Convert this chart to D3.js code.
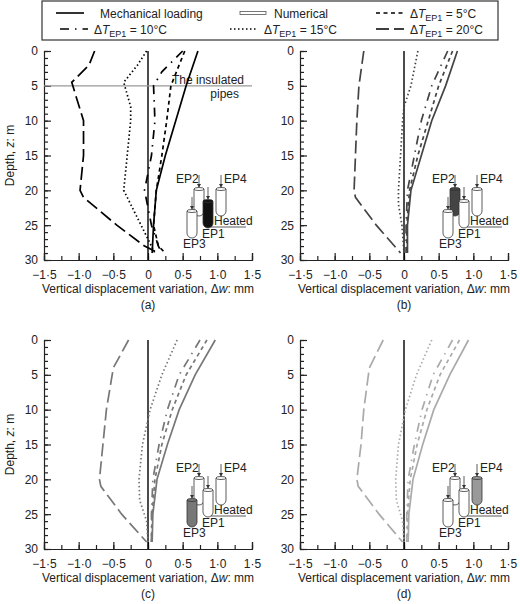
<!doctype html>
<html>
<head>
<meta charset="UTF-8">
<title>displacement</title>
<script src="https://cdn.jsdelivr.net/npm/d3@7"></script>
<style>
  body { margin: 0; background: #fff; }
  text { font-family: "Liberation Sans", Arial, sans-serif; font-size: 12px; fill: #222; }
</style>
</head>
<body>
<svg width="520" height="604"></svg>
<script>
// [dw (mm), depth z (m)]
let mechA = [[0.72,0],[0.55,5],[0.4,10],[0.25,15],[0.12,20],[0.08,25],[0.06,29]];
let t5A   = [[0.53,0],[0.33,5],[0.27,10],[0.2,15],[0.12,20],[0.08,25],[0.15,28],[0.25,29]];
let t10A  = [[0.5,0],[0.2,3],[0.08,5],[0.1,10],[0.05,15],[-0.05,20],[0.05,25],[0.15,28],[0.2,29]];
let t15A  = [[-0.02,0],[-0.15,2],[-0.35,4.5],[-0.25,8],[-0.25,10],[-0.3,15],[-0.35,20],[-0.1,25],[0.05,28],[0.1,29]];
let t20A  = [[-0.77,0],[-0.85,2],[-1.1,4.5],[-0.93,10],[-0.93,15],[-0.98,20],[-0.93,21],[-0.45,25],[-0.05,28],[0.15,29]];

let mechB = [[0.77,0],[0.6,5],[0.4,10],[0.25,15],[0.1,20],[0.05,25],[0.05,29]];
let t5B   = [[0.7,0],[0.5,5],[0.35,10],[0.2,15],[0.08,20],[0.04,25],[0.04,29]];
let t10B  = [[0.63,0],[0.4,5],[0.25,10],[0.15,15],[0.05,20],[0.03,25],[0.03,29]];
let t15B  = [[0.2,0],[0.1,5],[0,8],[-0.02,10],[-0.05,15],[-0.08,20],[-0.08,22],[-0.03,25],[0,29]];
let t20B  = [[-0.58,0],[-0.65,5],[-0.68,10],[-0.7,15],[-0.72,20],[-0.7,21],[-0.4,25],[-0.05,29]];

let mechC = [[0.97,0],[0.68,5],[0.45,10],[0.28,15],[0.13,20],[0.07,25],[0.06,29]];
let t5C   = [[0.85,0],[0.55,5],[0.35,10],[0.2,15],[0.1,20],[0.06,25],[0.05,29]];
let t10C  = [[0.75,0],[0.45,5],[0.28,10],[0.16,15],[0.07,20],[0.05,25],[0.05,29]];
let t15C  = [[0.42,0],[0.2,5],[0.03,10],[-0.08,15],[-0.13,20],[-0.12,23],[-0.02,26],[0,29]];
let t20C  = [[-0.28,0],[-0.5,4],[-0.6,10],[-0.65,15],[-0.7,20],[-0.68,21],[-0.38,25],[-0.02,29]];

let mechD = [[0.93,0],[0.66,5],[0.43,10],[0.27,15],[0.13,20],[0.07,25],[0.06,29]];
let t5D   = [[0.8,0],[0.52,5],[0.33,10],[0.19,15],[0.09,20],[0.05,25],[0.05,29]];
let t10D  = [[0.7,0],[0.42,5],[0.26,10],[0.15,15],[0.06,20],[0.04,25],[0.04,29]];
let t15D  = [[0.4,0],[0.18,5],[0.02,10],[-0.08,15],[-0.12,20],[-0.11,23],[-0.02,26],[0,29]];
let t20D  = [[-0.3,0],[-0.5,4],[-0.58,10],[-0.62,15],[-0.68,20],[-0.66,21],[-0.36,25],[-0.02,29]];

let xTicks = [-1.5, -1.0, -0.5, 0, 0.5, 1.0, 1.5];
let yTicks = [0, 5, 10, 15, 20, 25, 30];
let panelLabels = ["(a)", "(b)", "(c)", "(d)"];
let heatedPile = ["EP1", "EP2", "EP3", "EP4"];
let panelColors = ["#000", "#444", "#777", "#aaa"];
let pileFills = ["#111", "#444", "#777", "#999"];

let styles = {
    mech: "",
    t5: "4,3.5",
    t10: "9,6,1.5,6",
    t15: "1.5,2.5",
    t20: "13,5"
};

let panels = [
    {x: 44, y: 51, series: {mech: mechA, t5: t5A, t10: t10A, t15: t15A, t20: t20A}},
    {x: 300, y: 51, series: {mech: mechB, t5: t5B, t10: t10B, t15: t15B, t20: t20B}},
    {x: 44, y: 340, series: {mech: mechC, t5: t5C, t10: t10C, t15: t15C, t20: t20C}},
    {x: 300, y: 340, series: {mech: mechD, t5: t5D, t10: t10D, t15: t15D, t20: t20D}}
];

let W = 208, H = 209;
let svg = d3.select("svg");
let fmt = d => d === 0 ? "0" : d3.format(".1f")(d).replace("-", "\u2212").replace(".", "\u00b7");

// legend
let leg = svg.append("g");
leg.append("rect").attr("x", 42).attr("y", 1).attr("width", 456).attr("height", 39)
    .attr("fill", "none").attr("stroke", "#333").attr("stroke-width", 1.2);
let legItems = [
    {x: 56, y: 13, key: "mech", label: "Mechanical loading"},
    {x: 240, y: 13, key: "num", label: "Numerical"},
    {x: 376, y: 13, key: "t5", label: "5°C"},
    {x: 60, y: 29, key: "t10", label: "10°C"},
    {x: 230, y: 29, key: "t15", label: "15°C"},
    {x: 376, y: 29, key: "t20", label: "20°C"}
];
legItems.forEach(it => {
    if (it.key === "num") {
        leg.append("rect").attr("x", it.x).attr("y", it.y - 1.5).attr("width", 26).attr("height", 3)
            .attr("fill", "#fff").attr("stroke", "#555").attr("stroke-width", 0.8);
    } else {
        leg.append("line").attr("x1", it.x).attr("x2", it.x + 28).attr("y1", it.y).attr("y2", it.y)
            .attr("stroke", "#000").attr("stroke-width", 1.6).attr("stroke-dasharray", styles[it.key]);
    }
    let t = leg.append("text").attr("x", it.x + (it.key === "mech" ? 44 : 34)).attr("y", it.y + 4.5);
    if (it.key === "mech" || it.key === "num") {
        t.text(it.label);
    } else {
        t.append("tspan").text("\u0394");
        t.append("tspan").attr("font-style", "italic").text("T");
        t.append("tspan").attr("dy", 3).attr("font-size", 9).text("EP1");
        t.append("tspan").attr("dy", -3).text(" = " + it.label);
    }
});

function pile(g, name, cx, top, heated, fill) {
    let w = 10, h = 27, r = 5;
    g.append("path")
        .attr("d", `M${cx - w/2},${top} L${cx - w/2},${top + h - r} A${r},${r} 0 0 0 ${cx + w/2},${top + h - r} L${cx + w/2},${top} Z`)
        .attr("fill", heated ? fill : "#fff").attr("stroke", "#333").attr("stroke-width", 0.8);
    g.append("ellipse").attr("cx", cx).attr("cy", top).attr("rx", w/2).attr("ry", 1.5)
        .attr("fill", heated ? fill : "#fff").attr("stroke", "#333").attr("stroke-width", 0.8);
    g.append("line").attr("x1", cx).attr("x2", cx).attr("y1", top - 14).attr("y2", top - 2)
        .attr("stroke", "#333").attr("stroke-width", 0.8);
    g.append("path").attr("d", `M${cx - 2},${top - 5} L${cx},${top - 1.5} L${cx + 2},${top - 5} Z`).attr("fill", "#333");
}

panels.forEach((p, i) => {
    let g = svg.append("g").attr("transform", `translate(${p.x},${p.y})`);
    let x = d3.scaleLinear().domain([-1.5, 1.5]).range([0, W]);
    let y = d3.scaleLinear().domain([0, 30]).range([0, H]);

    g.append("g").attr("transform", `translate(0,${H})`)
        .call(d3.axisBottom(x).tickValues(d3.range(-1.5, 1.51, 0.25)).tickSize(-4).tickFormat(""))
        .call(a => a.select(".domain").remove());
    g.append("g").attr("transform", `translate(0,${H})`)
        .call(d3.axisBottom(x).tickValues(xTicks).tickSize(-7).tickPadding(10).tickFormat(fmt))
        .call(a => a.selectAll("text").attr("font-size", 12).attr("fill", "#222"));
    g.append("g")
        .call(d3.axisLeft(y).tickValues(d3.range(0, 31, 1)).tickSize(-4).tickFormat(""))
        .call(a => a.select(".domain").remove());
    g.append("g")
        .call(d3.axisLeft(y).tickValues(yTicks).tickSize(-7).tickPadding(6))
        .call(a => a.selectAll("text").attr("font-size", 12).attr("fill", "#222"));
    g.selectAll(".domain, .tick line").attr("stroke", "#222").attr("stroke-width", 1.2);

    g.append("line").attr("x1", x(0)).attr("x2", x(0)).attr("y1", 0).attr("y2", H)
        .attr("stroke", "#000").attr("stroke-width", 1.4);

    if (i === 0) {
        g.append("line").attr("x1", 0).attr("x2", W).attr("y1", y(5)).attr("y2", y(5))
            .attr("stroke", "#999").attr("stroke-width", 1.2);
        g.append("text").attr("x", 128).attr("y", y(5) - 2).text("The insulated");
        g.append("text").attr("x", 195).attr("y", y(5) + 12).attr("text-anchor", "end").text("pipes");
    }

    let line = d3.line().x(d => x(d[0])).y(d => y(d[1]));
    Object.keys(p.series).forEach(k => {
        g.append("path").datum(p.series[k]).attr("d", line)
            .attr("fill", "none").attr("stroke", panelColors[i]).attr("stroke-width", 1.7)
            .attr("stroke-dasharray", styles[k]);
    });

    // inset
    let ins = g.append("g");
    let piles = {EP2: [155, 138], EP1: [164, 150], EP3: [148, 160], EP4: [177, 138]};
    Object.keys(piles).forEach(n => pile(ins, n, piles[n][0], piles[n][1], n === heatedPile[i], pileFills[i]));
    ins.append("text").attr("x", 132).attr("y", 132).text("EP2");
    ins.append("text").attr("x", 180).attr("y", 132).text("EP4");
    ins.append("text").attr("x", 170).attr("y", 174).text("Heated");
    ins.append("line").attr("x1", 167).attr("x2", 202).attr("y1", 176).attr("y2", 176)
        .attr("stroke", "#333").attr("stroke-width", 0.8);
    ins.append("text").attr("x", 158).attr("y", 187).text("EP1");
    ins.append("text").attr("x", 139).attr("y", 197).text("EP3");

    let xt = g.append("text").attr("x", W / 2).attr("y", H + 33).attr("text-anchor", "middle");
    xt.append("tspan").text("Vertical displacement variation, \u0394");
    xt.append("tspan").attr("font-style", "italic").text("w");
    xt.append("tspan").text(": mm");
    g.append("text").attr("x", W / 2).attr("y", H + 49).attr("text-anchor", "middle").text(panelLabels[i]);
    if (i % 2 === 0) {
        let yt = g.append("text").attr("transform", `translate(${-30},${H / 2}) rotate(-90)`)
            .attr("text-anchor", "middle");
        yt.append("tspan").text("Depth, ");
        yt.append("tspan").attr("font-style", "italic").text("z");
        yt.append("tspan").text(": m");
    }
});
</script>
</body>
</html>
